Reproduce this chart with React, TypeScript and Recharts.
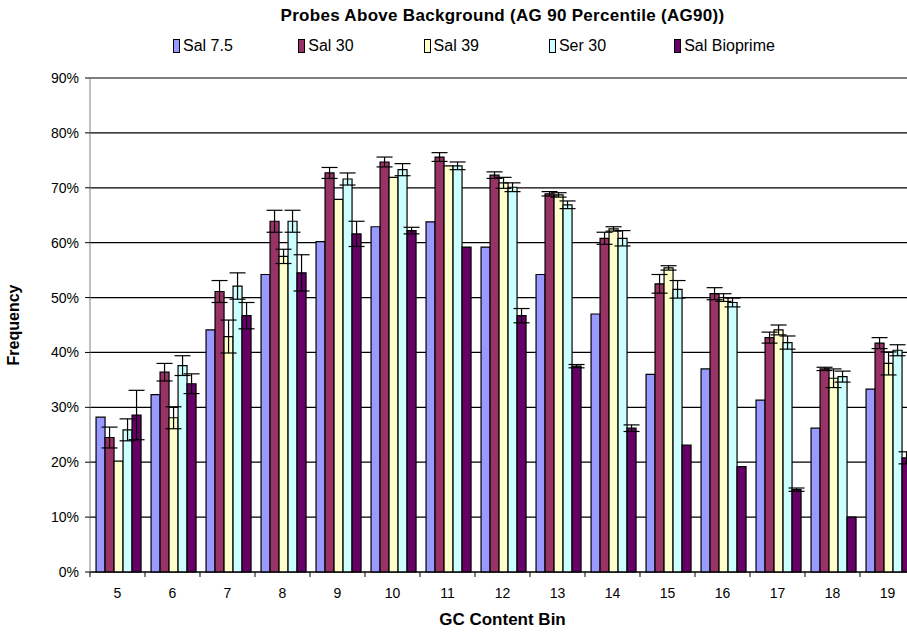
import { BarChart, Bar, XAxis, YAxis, CartesianGrid, ErrorBar, ReferenceLine } from "recharts";

const bins = ["5", "6", "7", "8", "9", "10", "11", "12", "13", "14", "15", "16", "17", "18", "19"];

const sal75 = [28.2, 32.3, 44.1, 54.2, 60.2, 62.9, 63.8, 59.2, 54.2, 47.0, 36.0, 37.0, 31.3, 26.2, 33.3];
const sal30 = [24.5, 36.4, 51.1, 63.9, 72.7, 74.7, 75.6, 72.3, 68.9, 60.8, 52.5, 50.7, 42.7, 37.0, 41.7];
const sal30Err = [1.9, 1.6, 2.0, 2.0, 1.0, 0.9, 0.8, 0.6, 0.4, 1.1, 1.7, 1.1, 1.0, 0.3, 1.0];
const sal39 = [20.2, 28.1, 42.9, 57.5, 67.9, 71.9, 74.0, 70.9, 68.7, 62.5, 55.4, 50.0, 44.1, 35.3, 38.0];
const sal39Err = [0, 2.0, 3.0, 1.3, 0, 0, 0, 1.0, 0.4, 0.4, 0.4, 0.7, 0.9, 1.7, 2.1];
const ser30 = [25.9, 37.6, 52.1, 63.9, 71.6, 73.3, 74.0, 70.1, 66.9, 60.8, 51.5, 49.1, 41.8, 35.6, 40.4];
const ser30Err = [2.0, 1.8, 2.4, 2.0, 1.1, 1.1, 0.7, 0.8, 0.7, 1.4, 1.6, 0.8, 1.2, 1.0, 1.0];
const bioprime = [28.6, 34.3, 46.7, 54.5, 61.6, 62.2, 59.2, 46.7, 37.5, 26.2, 23.1, 19.2, 15.0, 10.0, 20.8];
const bioprimeErr = [4.5, 1.8, 2.4, 3.3, 2.3, 0.6, 0, 1.3, 0.3, 0.6, 0, 0, 0.3, 0, 1.1];

const yTicks = [0, 10, 20, 30, 40, 50, 60, 70, 80, 90];

const series = [
  { key: "sal75", name: "Sal 7.5", color: "#9999FF", err: null },
  { key: "sal30", name: "Sal 30", color: "#993366", err: "sal30Err" },
  { key: "sal39", name: "Sal 39", color: "#FFFFCC", err: "sal39Err" },
  { key: "ser30", name: "Ser 30", color: "#CCFFFF", err: "ser30Err" },
  { key: "bioprime", name: "Sal Bioprime", color: "#660066", err: "bioprimeErr" },
];

const rows = bins.map((bin, i) => ({
  bin,
  sal75: sal75[i],
  sal30: sal30[i],
  sal30Err: sal30Err[i],
  sal39: sal39[i],
  sal39Err: sal39Err[i],
  ser30: ser30[i],
  ser30Err: ser30Err[i],
  bioprime: bioprime[i],
  bioprimeErr: bioprimeErr[i],
}));

const font = "'Liberation Sans', Arial, sans-serif";

// tick mark sits on the category boundary, label in the middle
const BinTick = (props: any) => {
  const { x, y, payload } = props;
  const half = payload && payload.offset ? payload.offset : 27.5;
  return (
    <g>
      <line x1={x - half} y1={y} x2={x - half} y2={y + 5} stroke="#000" />
      <text x={x} y={y + 26} textAnchor="middle" fontSize={14} fill="#000" fontFamily={font}>
        {payload.value}
      </text>
    </g>
  );
};

export default function App() {
  return (
    <div
      style={{
        position: "absolute",
        left: 0,
        top: 0,
        width: 907,
        height: 636,
        overflow: "hidden",
        background: "#fff",
        fontFamily: font,
      }}
    >
      <div
        style={{
          position: "absolute",
          top: 6,
          left: 90,
          width: 825,
          textAlign: "center",
          fontWeight: "bold",
          fontSize: 17,
          letterSpacing: 0.3,
        }}
      >
        Probes Above Background (AG 90 Percentile (AG90))
      </div>

      <div style={{ position: "absolute", top: 37, left: 173, display: "flex" }}>
        {series.map((s) => (
          <div key={s.key} style={{ width: 125.3, display: "flex", alignItems: "center", fontSize: 16 }}>
            <span
              style={{
                display: "inline-block",
                width: 5,
                height: 12,
                background: s.color,
                border: "1px solid #000",
                marginRight: 3,
              }}
            />
            {s.name}
          </div>
        ))}
      </div>

      <div
        style={{
          position: "absolute",
          left: 14,
          top: 325,
          transform: "translate(-50%, -50%) rotate(-90deg)",
          fontWeight: "bold",
          fontSize: 16,
          whiteSpace: "nowrap",
        }}
      >
        Frequency
      </div>

      <div
        style={{
          position: "absolute",
          top: 610,
          left: 90,
          width: 825,
          textAlign: "center",
          fontWeight: "bold",
          fontSize: 17,
        }}
      >
        GC Content Bin
      </div>

      <BarChart
        width={925}
        height={636}
        data={rows}
        margin={{ top: 78, right: 10, left: 40, bottom: 24 }}
        barCategoryGap="11%"
        barGap={0}
        style={{ position: "absolute", left: 0, top: 0 }}
      >
        <CartesianGrid vertical={false} stroke="#000" strokeWidth={1.2} />
        <XAxis
          dataKey="bin"
          height={40}
          axisLine={{ stroke: "#000", strokeWidth: 1.2 }}
          tickLine={false}
          tickSize={0}
          tickMargin={0}
          interval={0}
          tick={<BinTick />}
        />
        <YAxis
          type="number"
          domain={[0, 90]}
          ticks={yTicks}
          width={50}
          axisLine={{ stroke: "#808080" }}
          tickLine={{ stroke: "#000" }}
          tickSize={5}
          tickMargin={6}
          tickFormatter={(v: number) => `${v}%`}
          tick={{ fontSize: 14, fill: "#000", fontFamily: font }}
        />
        <ReferenceLine y={90} stroke="#808080" />
        {series.map((s) => (
          <Bar
            key={s.key}
            dataKey={s.key}
            name={s.name}
            fill={s.color}
            stroke="#000"
            strokeWidth={1.2}
            isAnimationActive={false}
          >
            {s.err && <ErrorBar dataKey={s.err} width={8} stroke="#000" strokeWidth={1.2} />}
          </Bar>
        ))}
      </BarChart>
    </div>
  );
}
